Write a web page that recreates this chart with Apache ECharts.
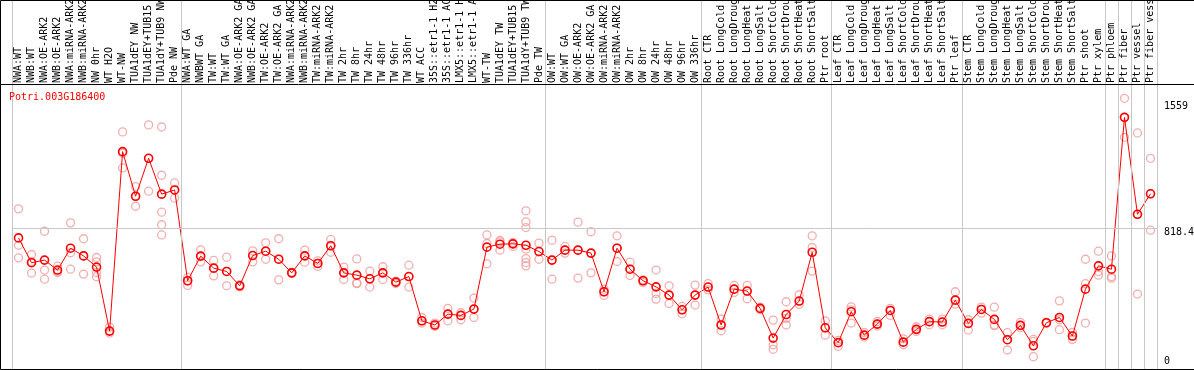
<!DOCTYPE html>
<html>
<head>
<meta charset="utf-8">
<script src="https://cdn.jsdelivr.net/npm/echarts@6/dist/echarts.min.js"></script>
<style>
html, body { margin: 0; padding: 0; background: #ffffff; }
#main { width: 1194px; height: 370px; }
</style>
</head>
<body>
<div id="main"></div>
<script>
var geneName = 'Potri.003G186400';

var categories = [
    'NWA:WT', 'NWB:WT', 'NWA:OE-ARK2', 'NWB:OE-ARK2', 'NWA:miRNA-ARK2', 'NWB:miRNA-ARK2', 'NW 0hr', 'WT H2O', 'WT-NW',
    'TUA1dEY NW', 'TUA1dEY+TUB15 NW', 'TUA1dY+TUB9 NW', 'Pde NW',
    'NWA:WT GA', 'NWBWT GA', 'TW:WT', 'TW:WT GA', 'NWA:OE-ARK2 GA', 'NWB:OE-ARK2 GA', 'TW:OE-ARK2', 'TW:OE-ARK2 GA',
    'NWA:miRNA-ARK2 GA', 'NWB:miRNA-ARK2 GA', 'TW:miRNA-ARK2', 'TW:miRNA-ARK2 GA', 'TW 2hr', 'TW 8hr', 'TW 24hr',
    'TW 48hr', 'TW 96hr', 'TW 336hr', 'WT ACC', '35S::etr1-1 H2O', '35S::etr1-1 ACC', 'LMX5::etr1-1 H2O',
    'LMX5::etr1-1 ACC', 'WT-TW', 'TUA1dEY TW', 'TUA1dEY+TUB15 TW', 'TUA1dY+TUB9 TW', 'Pde TW',
    'OW:WT', 'OW:WT GA', 'OW:OE-ARK2', 'OW:OE-ARK2 GA', 'OW:miRNA-ARK2', 'OW:miRNA-ARK2 GA', 'OW 2hr', 'OW 8hr',
    'OW 24hr', 'OW 48hr', 'OW 96hr', 'OW 336hr',
    'Root CTR', 'Root LongCold', 'Root LongDrought', 'Root LongHeat', 'Root LongSalt', 'Root ShortCold',
    'Root ShortDrought', 'Root ShortHeat', 'Root ShortSalt', 'Ptr root',
    'Leaf CTR', 'Leaf LongCold', 'Leaf LongDrought', 'Leaf LongHeat', 'Leaf LongSalt', 'Leaf ShortCold',
    'Leaf ShortDrought', 'Leaf ShortHeat', 'Leaf ShortSalt', 'Ptr leaf',
    'Stem CTR', 'Stem LongCold', 'Stem LongDrought', 'Stem LongHeat', 'Stem LongSalt', 'Stem ShortCold',
    'Stem ShortDrought', 'Stem ShortHeat', 'Stem ShortSalt', 'Ptr shoot', 'Ptr xylem',
    'Ptr phloem', 'Ptr fiber', 'Ptr vessel', 'Ptr fiber vessel'
];

// mean of the replicates, one per sample
var meanValues = [
    761, 619, 634, 577, 702, 658, 594, 228, 1254, 999, 1216, 1011, 1035,
    516, 657, 588, 569, 487, 660, 685, 639, 561, 658, 615, 716, 561, 548, 527, 561, 508, 540,
    287, 263, 325, 318, 354, 708, 725, 727, 719, 683,
    634, 691, 691, 674, 453, 702, 582, 516, 481, 434, 350, 434,
    480, 263, 468, 457, 358, 188, 323, 400, 679, 247,
    162, 339, 205, 268, 346, 165, 238, 282, 280, 405,
    272, 352, 295, 179, 261, 144, 276, 306, 200, 468, 601,
    582, 1450, 896, 1013
];

// single replicates (light circles)
var replicateValues = [
    [927, 719, 647], [666, 626, 560], [799, 577, 525], [599, 569, 563], [847, 676, 582],
    [756, 658, 554], [649, 624, 563, 539], [251, 228, 217], [1367, 1245, 1161], [1054, 999, 942],
    [1407, 1216, 1028], [1395, 1119, 1011, 908, 836, 778], [1075, 1035, 988],
    [535, 516, 489], [693, 657, 624], [632, 588, 544], [651, 569, 487], [493, 487, 481],
    [687, 660, 624], [733, 685, 639], [756, 639, 521], [565, 561, 557], [691, 658, 622],
    [630, 615, 598], [752, 716, 679], [594, 561, 523], [641, 504, 499], [571, 527, 480],
    [596, 561, 523], [514, 508, 500], [605, 540, 480], [306, 287, 274], [274, 263, 255],
    [358, 325, 287], [333, 318, 293], [417, 354, 306], [778, 729, 613], [746, 738, 691],
    [735, 727, 712], [916, 853, 820, 697, 643, 620, 601], [731, 683, 639],
    [748, 634, 525], [712, 691, 674], [851, 691, 531], [796, 674, 561], [468, 453, 432],
    [773, 702, 626], [622, 582, 546], [521, 516, 506], [577, 443, 411], [487, 434, 386],
    [369, 350, 327], [491, 434, 377],
    [500, 480, 464], [297, 263, 230], [489, 468, 449], [489, 457, 413], [365, 358, 350],
    [291, 150, 124], [396, 301, 263], [436, 400, 381], [773, 706, 571], [287, 247, 205],
    [175, 162, 141], [367, 350, 274], [221, 205, 194], [283, 268, 257], [358, 346, 318],
    [184, 165, 150], [253, 238, 226], [297, 282, 264], [297, 280, 264], [453, 405, 382],
    [293, 272, 234], [365, 352, 331], [365, 263, 259], [219, 179, 120], [278, 261, 247],
    [181, 169, 82], [278, 276, 272], [401, 293, 236], [221, 200, 181], [639, 499, 274],
    [685, 569, 548],
    [658, 540, 531], [1559, 1450, 1336], [1361, 896, 440], [1216, 1013, 805]
];

// sample group borders, counted in samples
var groupBreaks = [0, 13, 41, 53, 63, 73, 84, 85, 86, 87, 88];

var yTickValues = [0, 818.4, 1559];
var yTickLabels = ['0', '818.4', '1559'];

var monoFont = '"DejaVu Sans Mono", monospace';

var chartDom = document.getElementById('main');
var chart = echarts.init(chartDom);

var replicatePoints = [];
replicateValues.forEach(function (reps, i) {
    reps.forEach(function (v) {
        replicatePoints.push([i, v]);
    });
});

var option = {
    animation: false,
    backgroundColor: '#ffffff',
    title: {
        text: geneName,
        left: 9,
        top: 92,
        padding: 0,
        textStyle: {
            color: '#ff0000',
            fontSize: 10,
            fontWeight: 'normal',
            fontFamily: monoFont
        }
    },
    grid: {
        left: 12,
        top: 0,
        width: 1145,
        height: 371,
        containLabel: false,
        outerBoundsMode: 'none'
    },
    xAxis: [
        {
            type: 'category',
            data: categories,
            position: 'top',
            offset: -85,
            boundaryGap: true,
            axisLine: { show: false },
            axisTick: { show: false },
            splitLine: { show: false },
            axisLabel: {
                interval: 0,
                rotate: 90,
                margin: 2,
                color: '#000000',
                fontSize: 10,
                fontFamily: monoFont
            }
        },
        {
            type: 'value',
            min: 0,
            max: categories.length,
            show: false
        }
    ],
    yAxis: {
        type: 'value',
        min: 0,
        max: 2121,
        position: 'right',
        axisLine: { show: false },
        axisTick: { show: false },
        splitLine: { show: false },
        axisLabel: {
            customValues: yTickValues,
            margin: 7,
            formatter: function (value) {
                var i = yTickValues.indexOf(value);
                return '{p' + i + '|' + yTickLabels[i] + '}';
            },
            rich: {
                p0: { padding: [0, 0, 19, 0], fontSize: 10, fontFamily: monoFont, color: '#000' },
                p1: { padding: [9, 0, 0, 0], fontSize: 10, fontFamily: monoFont, color: '#000' },
                p2: { padding: [17, 0, 0, 0], fontSize: 10, fontFamily: monoFont, color: '#000' }
            }
        }
    },
    graphic: [
        {
            type: 'rect',
            silent: true,
            z: 100,
            shape: { x: 0.5, y: 0.5, width: 1200, height: 369 },
            style: { fill: 'none', stroke: '#000000', lineWidth: 1 }
        },
        {
            type: 'line',
            silent: true,
            z: 100,
            shape: { x1: 0, y1: 84.5, x2: 1194, y2: 84.5 },
            style: { stroke: '#000000', lineWidth: 1 }
        }
    ],
    series: [
        {
            type: 'scatter',
            xAxisIndex: 1,
            data: [],
            silent: true,
            z: 1,
            markLine: {
                silent: true,
                symbol: 'none',
                label: { show: false },
                lineStyle: { color: '#c8c8c8', width: 1, type: 'solid' },
                data: groupBreaks.map(function (b) { return { xAxis: b }; })
                    .concat([{ yAxis: yTickValues[1] }])
            }
        },
        {
            type: 'scatter',
            data: replicatePoints,
            symbol: 'circle',
            symbolSize: 8,
            silent: true,
            z: 2,
            itemStyle: {
                color: 'rgba(0,0,0,0)',
                borderColor: '#f09a9a',
                borderWidth: 1.3
            }
        },
        {
            type: 'line',
            data: meanValues,
            symbol: 'circle',
            symbolSize: 8,
            showSymbol: true,
            silent: true,
            z: 3,
            itemStyle: {
                color: 'rgba(0,0,0,0)',
                borderColor: '#ff0000',
                borderWidth: 1.6
            },
            lineStyle: { color: '#ff0000', width: 1 }
        }
    ]
};

chart.setOption(option);
</script>
</body>
</html>
